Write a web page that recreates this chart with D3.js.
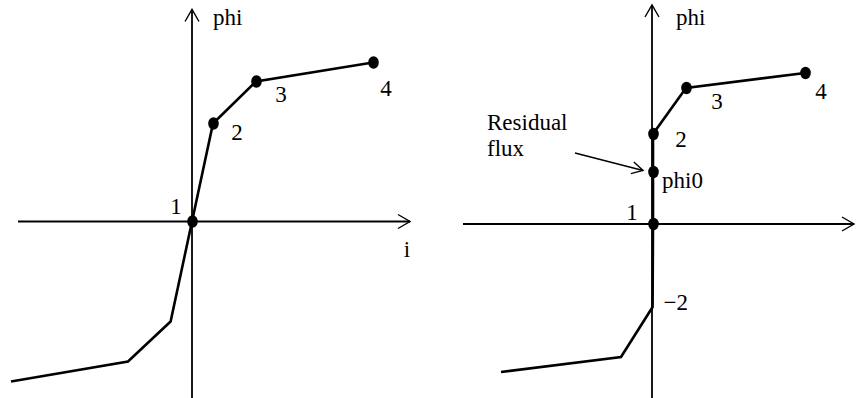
<!DOCTYPE html>
<html>
<head>
<meta charset="utf-8">
<script src="https://cdn.jsdelivr.net/npm/d3@7"></script>
<style>
  body { margin: 0; background: #fff; }
  text { font-family: "Liberation Serif", "Times New Roman", serif; font-size: 23px; fill: #000; }
</style>
</head>
<body>
<div id="vis"></div>
<script>
// left panel: magnetising curve (i, phi)
var leftCurveI   = [-9.05, -3.2, -1.07, 0, 1.05, 3.2, 9.05];
var leftCurvePhi = [-8.0, -7.0, -5.0, 0, 4.9, 7.0, 7.95];
var leftPointIdx = [3, 4, 5, 6];
var leftPointLabels = ["1", "2", "3", "4"];

// right panel: curve shifted by residual flux
var rightCurveI   = [-7.55, -1.55, 0.03, 0.05, 0.05, 0.05, 1.7, 7.65];
var rightCurvePhi = [-7.4, -6.65, -4.15, 0, 2.6, 4.5, 6.8, 7.55];
var rightPointIdx = [3, 4, 5, 6, 7];
var rightPointLabels = ["1", "phi0", "2", "3", "4"];
var rightExtraIdx = [2];
var rightExtraLabels = ["\u22122"];

var axisNames = ["i", "phi"];
var residualText = ["Residual", "flux"];

var W = 856, H = 398;
var PX = 20; // pixels per unit

var svg = d3.select("#vis").append("svg")
    .attr("width", W)
    .attr("height", H);

var defs = svg.append("defs");
function addMarker(id, len, half)
{
    defs.append("marker")
        .attr("id", id)
        .attr("markerUnits", "userSpaceOnUse")
        .attr("markerWidth", len + 4)
        .attr("markerHeight", 2 * half + 4)
        .attr("viewBox", (-len - 2) + " " + (-half - 2) + " " + (len + 4) + " " + (2 * half + 4))
        .attr("refX", 0)
        .attr("refY", 0)
        .attr("orient", "auto")
      .append("path")
        .attr("d", "M" + (-len) + "," + (-half) + "L0,0L" + (-len) + "," + half)
        .attr("fill", "none")
        .attr("stroke", "#000")
        .attr("stroke-width", 1.4);
}
addMarker("axisArrow", 12, 7);
addMarker("noteArrow", 11, 6);

function makePanel(cfg)
{
    var x = d3.scaleLinear()
        .domain(cfg.iDomain)
        .range([cfg.ox + cfg.iDomain[0] * PX, cfg.ox + cfg.iDomain[1] * PX]);
    var y = d3.scaleLinear()
        .domain(cfg.phiDomain)
        .range([cfg.oy - cfg.phiDomain[0] * PX, cfg.oy - cfg.phiDomain[1] * PX]);

    var g = svg.append("g");

    // axes
    g.append("line")
        .attr("x1", x(cfg.iDomain[0])).attr("y1", y(0))
        .attr("x2", x(cfg.iDomain[1])).attr("y2", y(0))
        .attr("stroke", "#000").attr("stroke-width", 1.8)
        .attr("marker-end", "url(#axisArrow)");
    g.append("line")
        .attr("x1", x(0)).attr("y1", y(cfg.phiDomain[0]))
        .attr("x2", x(0)).attr("y2", y(cfg.phiDomain[1]))
        .attr("stroke", "#000").attr("stroke-width", 1.8)
        .attr("marker-end", "url(#axisArrow)");

    // curve
    var pts = cfg.curveI.map(function(v, k) { return [v, cfg.curvePhi[k]]; });
    var line = d3.line()
        .x(function(d) { return x(d[0]); })
        .y(function(d) { return y(d[1]); });
    g.append("path")
        .datum(pts)
        .attr("d", line)
        .attr("fill", "none")
        .attr("stroke", "#000")
        .attr("stroke-width", 2.6)
        .attr("stroke-linejoin", "miter");

    // dots
    g.selectAll("ellipse")
        .data(cfg.pointIdx)
        .enter().append("ellipse")
        .attr("cx", function(k) { return x(pts[k][0]) + 0.5; })
        .attr("cy", function(k) { return y(pts[k][1]); })
        .attr("rx", 5.3)
        .attr("ry", 6.2)
        .attr("fill", "#000");

    // point labels
    cfg.labels.forEach(function(lab)
    {
        var k = lab.idx;
        g.append("text")
            .attr("x", x(pts[k][0]) + lab.dx)
            .attr("y", y(pts[k][1]) + lab.dy)
            .attr("text-anchor", lab.anchor || "middle")
            .text(lab.text);
    });

    // axis names
    g.append("text")
        .attr("x", x(0) + cfg.phiNameDx)
        .attr("y", y(cfg.phiDomain[1]) + cfg.phiNameDy)
        .text(axisNames[1]);
    if (cfg.showI)
    {
        g.append("text")
            .attr("x", x(cfg.iDomain[1]) - 3)
            .attr("y", y(0) + 35)
            .attr("text-anchor", "middle")
            .text(axisNames[0]);
    }
    return { x: x, y: y, g: g };
}

var left = makePanel({
    ox: 192, oy: 221.5,
    iDomain: [-8.7, 10.9], phiDomain: [-8.85, 10.6],
    curveI: leftCurveI, curvePhi: leftCurvePhi,
    pointIdx: leftPointIdx,
    labels: [
        { idx: leftPointIdx[0], text: leftPointLabels[0], dx: -16, dy: -8 },
        { idx: leftPointIdx[1], text: leftPointLabels[1], dx: 24, dy: 16 },
        { idx: leftPointIdx[2], text: leftPointLabels[2], dx: 25, dy: 20 },
        { idx: leftPointIdx[3], text: leftPointLabels[3], dx: 13, dy: 33 }
    ],
    phiNameDx: 21, phiNameDy: 15,
    showI: true
});

var right = makePanel({
    ox: 652, oy: 224,
    iDomain: [-9.45, 10.1], phiDomain: [-8.75, 10.95],
    curveI: rightCurveI, curvePhi: rightCurvePhi,
    pointIdx: rightPointIdx,
    labels: [
        { idx: rightPointIdx[0], text: rightPointLabels[0], dx: -21, dy: -4 },
        { idx: rightPointIdx[1], text: rightPointLabels[1], dx: 9, dy: 16, anchor: "start" },
        { idx: rightPointIdx[2], text: rightPointLabels[2], dx: 28, dy: 13 },
        { idx: rightPointIdx[3], text: rightPointLabels[3], dx: 31, dy: 21 },
        { idx: rightPointIdx[4], text: rightPointLabels[4], dx: 16, dy: 26 },
        { idx: rightExtraIdx[0], text: rightExtraLabels[0], dx: 11, dy: 3, anchor: "start" }
    ],
    phiNameDx: 24, phiNameDy: 20,
    showI: false
});

// residual flux annotation
var phi0 = [rightCurveI[4], rightCurvePhi[4]];
right.g.append("text")
    .attr("x", right.x(phi0[0]) - 166)
    .attr("y", right.y(phi0[1]) - 42)
    .text(residualText[0]);
right.g.append("text")
    .attr("x", right.x(phi0[0]) - 166)
    .attr("y", right.y(phi0[1]) - 16)
    .text(residualText[1]);
right.g.append("line")
    .attr("x1", right.x(phi0[0]) - 78)
    .attr("y1", right.y(phi0[1]) - 19)
    .attr("x2", right.x(phi0[0]) - 10)
    .attr("y2", right.y(phi0[1]) - 1.5)
    .attr("stroke", "#000")
    .attr("stroke-width", 1.4)
    .attr("marker-end", "url(#noteArrow)");
</script>
</body>
</html>
